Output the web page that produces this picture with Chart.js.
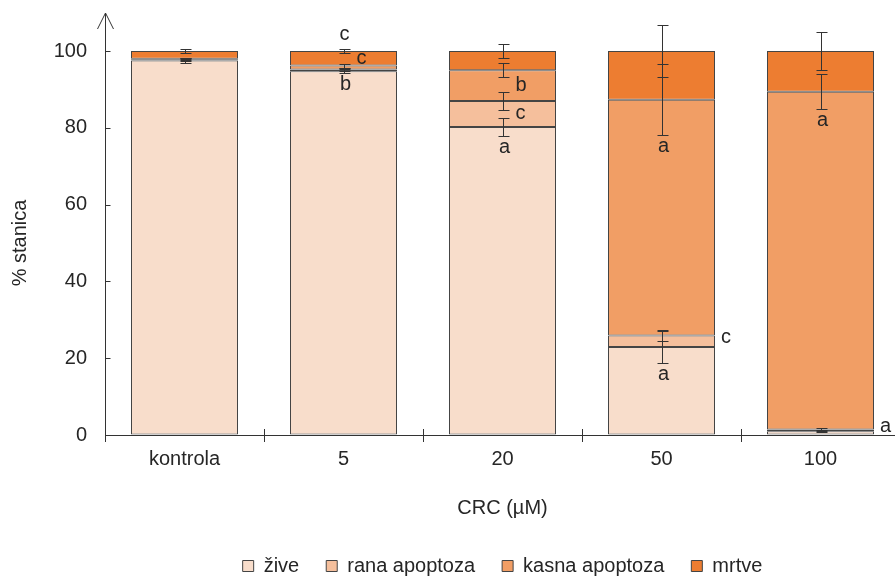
<!DOCTYPE html>
<html>
<head>
<meta charset="utf-8">
<script src="https://cdn.jsdelivr.net/npm/chart.js@4.4.1/dist/chart.umd.min.js"></script>
<style>
  html, body { margin: 0; padding: 0; background: #fff; overflow: hidden; }
  #wrap { width: 900px; height: 576px; }
</style>
</head>
<body>
<div id="wrap"><canvas id="chart"></canvas></div>
<script>
// categories and tick labels
const categories = ['kontrola', '5', '20', '50', '100'];
const yTicks = [0, 20, 40, 60, 80, 100];

// % of cells per group (stacked)
const zive = [97.5, 94.7, 80.2, 22.9, 1.0];
const rana = [0.2, 0.5, 6.8, 3.0, 0.4];
const kasna = [0.3, 1.0, 8.0, 61.4, 88.0];
const mrtve = [2.0, 3.8, 5.0, 12.7, 10.6];

// standard deviations
const errZive = [0.7, 0.5, 2.3, 4.2, 0.3];
const errRana = [0.3, 0.5, 2.3, 1.5, 0.3];
const errKasna = [0.3, 0.5, 1.8, 9.2, 4.6];
const errMrtve = [0.45, 0.4, 1.9, 6.7, 5.0];

// significance letters
const letZive = ['', 'b', 'a', 'a', ''];
const letRana = ['', '', 'c', 'c', 'a'];
const letKasna = ['', 'c', 'b', 'a', 'a'];
const letMrtve = ['', 'c', '', '', ''];

// where each letter sits
const posZive = ['', 'below', 'below', 'below', ''];
const posRana = ['', '', 'mid', 'side', 'side'];
const posKasna = ['', 'above', 'mid', 'below', 'below'];
const posMrtve = ['', 'top', '', '', ''];

const FONT = "'Liberation Sans', Arial, sans-serif";
const TXT = '#262626';
const LINE = '#333333';

const series = [
    { label: 'žive', data: zive, err: errZive, letters: letZive, pos: posZive, color: '#F8DDCB' },
    { label: 'rana apoptoza', data: rana, err: errRana, letters: letRana, pos: posRana, color: '#F5BF9C' },
    { label: 'kasna apoptoza', data: kasna, err: errKasna, letters: letKasna, pos: posKasna, color: '#F19E65' },
    { label: 'mrtve', data: mrtve, err: errMrtve, letters: letMrtve, pos: posMrtve, color: '#ED7D31' }
];

//error bars, letters, axis arrow and tick marks
const extras = {
    id: 'extras',
    afterDatasetsDraw(chart) {
        const ctx = chart.ctx;
        const x = chart.scales.x;
        const y = chart.scales.y;
        const area = chart.chartArea;
        ctx.save();
        ctx.strokeStyle = LINE;
        ctx.lineWidth = 1;

        for (let i = 0; i < categories.length; i++) {
            const meta0 = chart.getDatasetMeta(0).data[i];
            const cx = Math.round(x.getPixelForValue(i)) + 0.5;
            const halfBar = meta0.width / 2;
            let base = 0;
            series.forEach(s => {
                const bottom = base;
                const top = base + s.data[i];
                base = top;
                const e = s.err[i];
                const yTop = y.getPixelForValue(top);
                const yHi = Math.round(y.getPixelForValue(top + e)) + 0.5;
                const yLo = Math.round(y.getPixelForValue(top - e)) + 0.5;
                ctx.beginPath();
                ctx.moveTo(cx, yHi);
                ctx.lineTo(cx, yLo);
                ctx.moveTo(cx - 5, yHi);
                ctx.lineTo(cx + 6, yHi);
                ctx.moveTo(cx - 5, yLo);
                ctx.lineTo(cx + 6, yLo);
                ctx.stroke();

                const t = s.letters[i];
                if (!t) return;
                const yMid = (y.getPixelForValue(bottom) + yTop) / 2;
                ctx.fillStyle = TXT;
                ctx.font = '20px ' + FONT;
                const p = s.pos[i];
                if (p === 'top') {
                    ctx.textAlign = 'center';
                    ctx.textBaseline = 'alphabetic';
                    ctx.fillText(t, cx, yHi - 10);
                } else if (p === 'below') {
                    ctx.textAlign = 'center';
                    ctx.textBaseline = 'alphabetic';
                    ctx.fillText(t, cx + 1, yLo + 16);
                } else if (p === 'mid') {
                    ctx.textAlign = 'left';
                    ctx.textBaseline = 'middle';
                    ctx.fillText(t, cx + 12, yMid);
                } else if (p === 'above') {
                    ctx.textAlign = 'left';
                    ctx.textBaseline = 'middle';
                    ctx.fillText(t, cx + 12, yTop - 7);
                } else if (p === 'side') {
                    ctx.textAlign = 'left';
                    ctx.textBaseline = 'middle';
                    ctx.fillText(t, cx + halfBar + 5, yMid - 4);
                }
            });
        }

        // y axis extension with arrow
        const ax = Math.round(area.left) + 0.5;
        ctx.beginPath();
        ctx.moveTo(ax, area.bottom + 7);
        ctx.lineTo(ax, 13);
        ctx.moveTo(ax - 8, 29);
        ctx.lineTo(ax, 13);
        ctx.lineTo(ax + 8, 29);
        ctx.stroke();

        // y tick marks (inside)
        yTicks.forEach(v => {
            const py = Math.round(y.getPixelForValue(v)) + 0.5;
            ctx.beginPath();
            ctx.moveTo(ax, py);
            ctx.lineTo(ax + 5, py);
            ctx.stroke();
        });

        // x tick marks between categories
        for (let i = 0; i < categories.length - 1; i++) {
            const bx = Math.round((x.getPixelForValue(i) + x.getPixelForValue(i + 1)) / 2) + 0.5;
            ctx.beginPath();
            ctx.moveTo(bx, area.bottom - 6);
            ctx.lineTo(bx, area.bottom + 7);
            ctx.stroke();
        }
        ctx.restore();
    }
};

const chartData = {
    labels: categories,
    datasets: series.map(s => ({
        label: s.label,
        data: s.data,
        backgroundColor: s.color,
        borderColor: '#444444',
        borderWidth: 1,
        borderSkipped: false,
        categoryPercentage: 1,
        barPercentage: 107 / 159
    }))
};

const chartOptions = {
    responsive: true,
    maintainAspectRatio: false,
    animation: false,
    layout: {
        padding: { top: 51, right: 0, bottom: -10, left: 0 }
    },
    scales: {
        x: {
            stacked: true,
            grid: { drawOnChartArea: false, drawTicks: false },
            border: { display: true, color: LINE, width: 1 },
            ticks: { color: TXT, padding: 12, font: { family: FONT, size: 20 } },
            title: {
                display: true,
                text: 'CRC (µM)',
                color: TXT,
                font: { family: FONT, size: 20 },
                padding: { top: 0, bottom: 9 }
            },
            afterFit: scale => { scale.height = 94; }
        },
        y: {
            stacked: true,
            min: 0,
            max: 100,
            grid: { drawOnChartArea: false, drawTicks: false },
            border: { display: true, color: LINE, width: 1 },
            ticks: { stepSize: 20, color: TXT, padding: 18, font: { family: FONT, size: 20 } },
            afterBuildTicks: scale => { scale.ticks = yTicks.map(v => ({ value: v })); },
            title: {
                display: true,
                text: '% stanica',
                color: TXT,
                font: { family: FONT, size: 20 },
                padding: { top: 8, bottom: 0 }
            },
            afterFit: scale => { scale.width = 105; }
        }
    },
    plugins: {
        legend: {
            position: 'bottom',
            fullSize: false,
            labels: {
                color: TXT,
                boxWidth: 11,
                boxHeight: 11,
                padding: 27,
                font: { family: FONT, size: 20 }
            }
        },
        tooltip: { enabled: false }
    }
};

let crcChart = new Chart(document.getElementById('chart'), {
    type: 'bar',
    data: chartData,
    options: chartOptions,
    plugins: [extras]
});
</script>
</body>
</html>
